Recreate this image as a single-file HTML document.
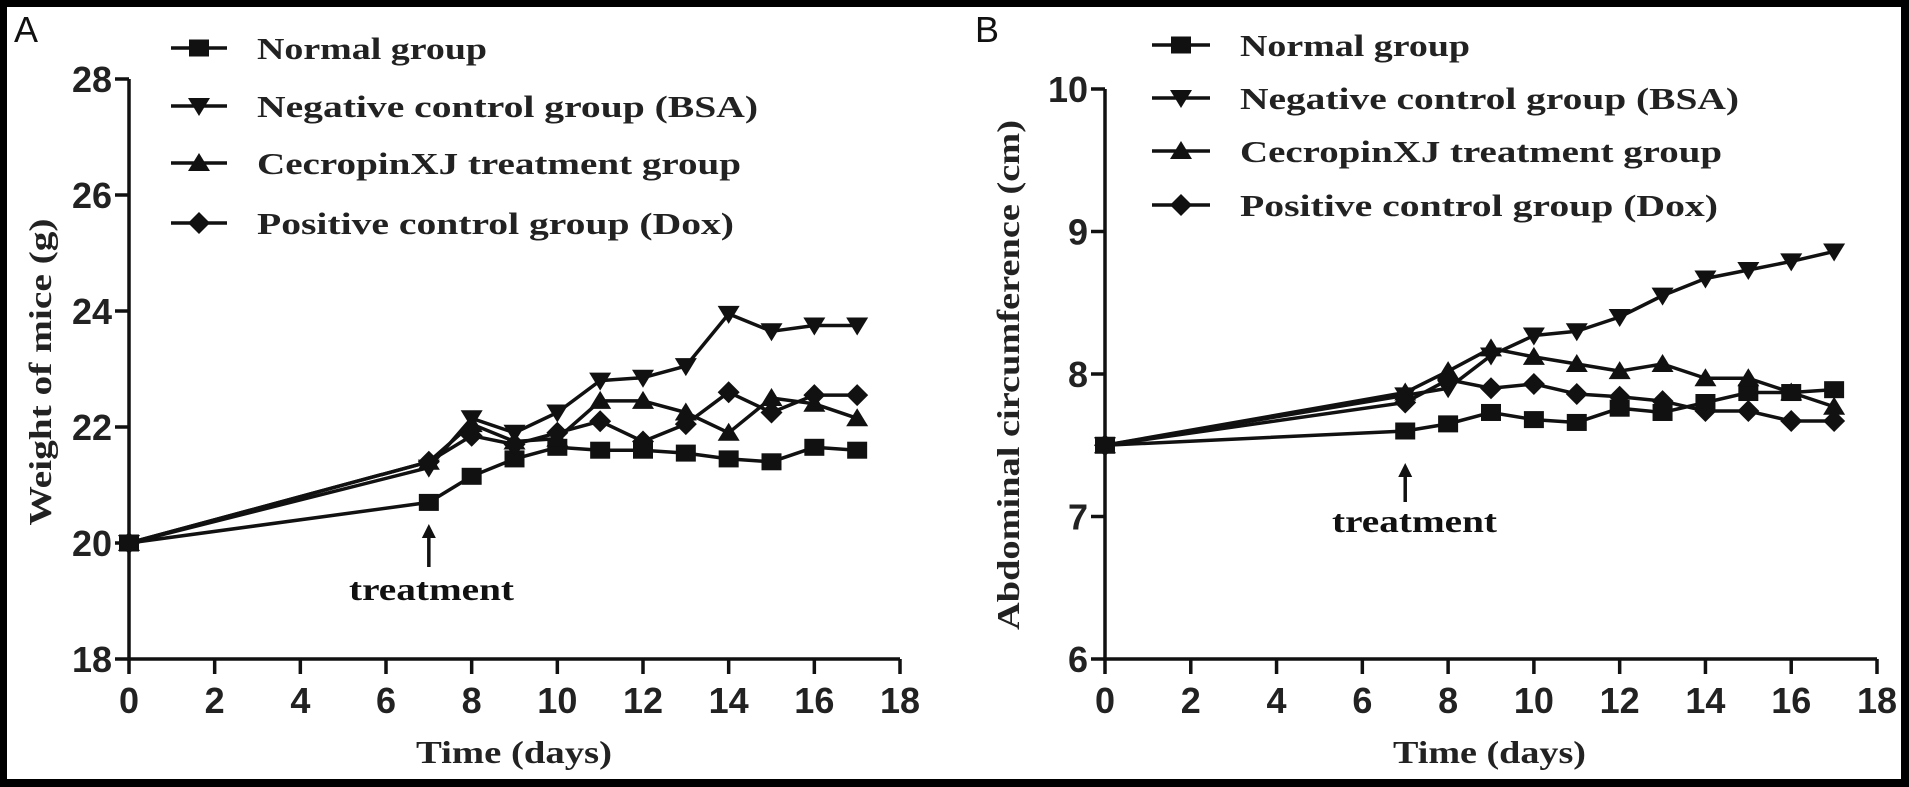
<!DOCTYPE html>
<html><head><meta charset="utf-8"><style>
html,body{margin:0;padding:0;background:#000;}
svg{display:block;}
</style></head><body>
<svg id="svg" width="1909" height="787" viewBox="0 0 1909 787" xmlns="http://www.w3.org/2000/svg">
<rect x="7" y="7" width="1894" height="772" fill="#fff"/>
<g id="gA"></g>
<g id="gB"></g>
</svg>
<script>
const days = [0,7,8,9,10,11,12,13,14,15,16,17];
const seriesNames = ["Normal group","Negative control group (BSA)","CecropinXJ treatment group","Positive control group (Dox)"];
const markerTypes = ["square","down","up","diamond"];
const xTicks = [0,2,4,6,8,10,12,14,16,18];
const weightTicks = [18,20,22,24,26,28];
const weightNormal   = [20,20.7,21.15,21.45,21.65,21.6,21.6,21.55,21.45,21.4,21.65,21.6];
const weightNegative = [20,21.3,22.15,21.9,22.25,22.8,22.85,23.05,23.95,23.65,23.75,23.75];
const weightCecropin = [20,21.4,22.05,21.75,21.8,22.45,22.45,22.25,21.9,22.5,22.4,22.15];
const weightPositive = [20,21.4,21.85,21.7,21.9,22.1,21.75,22.05,22.6,22.25,22.55,22.55];
const abdTicks = [6,7,8,9,10];
const abdNormal   = [7.5,7.6,7.65,7.73,7.68,7.66,7.76,7.73,7.8,7.87,7.87,7.89];
const abdNegative = [7.5,7.85,7.9,8.13,8.27,8.3,8.4,8.55,8.67,8.73,8.79,8.86];
const abdCecropin = [7.5,7.87,8.02,8.18,8.12,8.07,8.02,8.07,7.97,7.97,7.87,7.77];
const abdPositive = [7.5,7.8,7.96,7.9,7.93,7.86,7.84,7.81,7.74,7.74,7.67,7.67];
const treatmentDay = 7;

const NS='http://www.w3.org/2000/svg';
function mk(parent,tag,attrs,text){const e=document.createElementNS(NS,tag);for(const k in attrs)e.setAttribute(k,attrs[k]);if(text!==undefined)e.textContent=text;parent.appendChild(e);return e;}
function marker(g,type,x,y){
  let e;
  if(type==='square') e=mk(g,'rect',{x:x-10,y:y-8.5,width:20,height:17,fill:'#111'});
  else if(type==='down') e=mk(g,'polygon',{points:`${x-11},${y-8} ${x+11},${y-8} ${x},${y+10}`,fill:'#111'});
  else if(type==='up') e=mk(g,'polygon',{points:`${x-11},${y+8} ${x+11},${y+8} ${x},${y-10}`,fill:'#111'});
  else e=mk(g,'polygon',{points:`${x},${y-11} ${x+11},${y} ${x},${y+11} ${x-11},${y}`,fill:'#111'});
  return e;
}
function panel(g,cfg){
  const X=v=>cfg.x0+(v-0)/18*(cfg.x1-cfg.x0);
  const Y=v=>cfg.yb+(v-cfg.ymin)/(cfg.ymax-cfg.ymin)*(cfg.yt-cfg.yb);
  const serif='"Liberation Serif",serif', sans='"Liberation Sans",sans-serif';
  let t=mk(g,'text',{x:cfg.letterX,y:42,'font-family':sans,'font-size':36,fill:'#111'},cfg.letter);
  
  
  // axes
  let ax=mk(g,'path',{d:`M${cfg.x0},${Y(cfg.ymax)} L${cfg.x0},${cfg.yb} L${cfg.x1},${cfg.yb}`,stroke:'#111','stroke-width':3.5,fill:'none'});
  
  
  cfg.yTicks.forEach(v=>{
    mk(g,'line',{x1:cfg.x0-14,x2:cfg.x0,y1:Y(v),y2:Y(v),stroke:'#111','stroke-width':3.5});
    const l=mk(g,'text',{x:cfg.x0-17,y:Y(v)+13,'text-anchor':'end','font-family':sans,'font-weight':'bold','font-size':36,fill:'#222'},String(v));
    
    
  });
  xTicks.forEach(v=>{
    mk(g,'line',{x1:X(v),x2:X(v),y1:cfg.yb,y2:cfg.yb+15,stroke:'#111','stroke-width':3.5});
    const l=mk(g,'text',{x:X(v),y:713,'text-anchor':'middle','font-family':sans,'font-weight':'bold','font-size':36,fill:'#222'},String(v));
    
    
  });
  let xt=mk(g,'text',{x:cfg.xtX,y:763,'font-family':serif,'font-weight':'bold','font-size':32,fill:'#222',textLength:cfg.xtW,lengthAdjust:'spacingAndGlyphs'},'Time (days)');
  
  
  let yt=mk(g,'text',{x:0,y:0,'font-family':serif,'font-weight':'bold','font-size':32,fill:'#222','text-anchor':'middle',textLength:cfg.ytLen,lengthAdjust:'spacingAndGlyphs',transform:`translate(${cfg.ytX},${cfg.ytY}) rotate(-90)`},cfg.yTitle);
  
  
  // series
  cfg.series.forEach((vals,i)=>{
    const sg=mk(g,'g',{});
    
    
    mk(sg,'polyline',{points:vals.map((v,j)=>X(days[j])+','+Y(v)).join(' '),fill:'none',stroke:'#111','stroke-width':3.5,'stroke-linejoin':'round'});
    vals.forEach((v,j)=>{const m=marker(sg,markerTypes[i],X(days[j]),Y(v));
      
      });
  });
  // treatment annotation
  const tx=X(treatmentDay);
  const ag=mk(g,'g',{});
  
  
  mk(ag,'line',{x1:tx,x2:tx,y1:cfg.arY1+8,y2:cfg.arY2,stroke:'#111','stroke-width':3.5});
  mk(ag,'polygon',{points:`${tx-7},${cfg.arY1+14} ${tx+7},${cfg.arY1+14} ${tx},${cfg.arY1}`,fill:'#111'});
  mk(ag,'text',{x:cfg.trX,y:cfg.trY,'font-family':serif,'font-weight':'bold','font-size':32,fill:'#111',textLength:165,lengthAdjust:'spacingAndGlyphs'},'treatment');
  // legend
  cfg.legRows.forEach((ry,i)=>{
    const lg=mk(g,'g',{});
    
    
    mk(lg,'line',{x1:cfg.legX1,x2:cfg.legX2,y1:ry,y2:ry,stroke:'#111','stroke-width':3.5});
    marker(lg,markerTypes[i],(cfg.legX1+cfg.legX2)/2,ry);
    mk(lg,'text',{x:cfg.legTX,y:ry+11,'font-family':serif,'font-weight':'bold','font-size':31,fill:'#222',textLength:cfg.legW[i],lengthAdjust:'spacingAndGlyphs'},seriesNames[i]);
  });
}
panel(document.getElementById('gA'),{
  letter:'A',letterX:14,x0:129,x1:900,yb:659,yt:79,ymin:18,ymax:28,yTicks:weightTicks,
  series:[weightNormal,weightNegative,weightCecropin,weightPositive],
  xtX:416,xtW:196,yTitle:'Weight of mice (g)',ytX:51,ytY:372,ytLen:307,
  arY1:524,arY2:567,trX:349,trY:600,
  legRows:[48,106,163,223],legX1:171,legX2:227,legTX:257,legW:[230,501,484,477]
});
panel(document.getElementById('gB'),{
  letter:'B',letterX:975,x0:1105,x1:1877,yb:659,yt:89,ymin:6,ymax:10,yTicks:abdTicks,
  series:[abdNormal,abdNegative,abdCecropin,abdPositive],
  xtX:1393,xtW:193,yTitle:'Abdominal circumference (cm)',ytX:1019,ytY:375,ytLen:510,
  arY1:463,arY2:502,trX:1332,trY:532,
  legRows:[45,98,151,205],legX1:1152,legX2:1210,legTX:1240,legW:[230,499,482,478]
});
</script>
</body></html>
